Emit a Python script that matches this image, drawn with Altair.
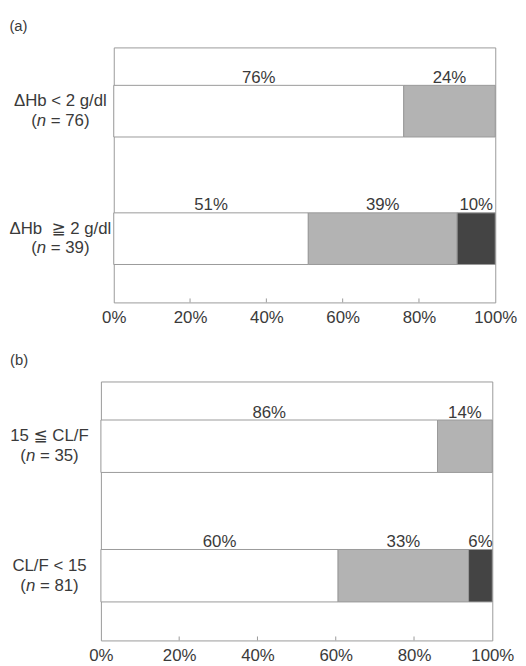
import altair as alt
import pandas as pd

FONT = "Liberation Sans, Arial, DejaVu Sans"
TXT = "#3a3a3a"
FRAME = "#9a9a9a"

seg_names = ["low", "mid", "high"]
seg_colors = ["#ffffff", "#b3b3b3", "#444444"]

# Panel (a)
a_groups = ["ΔHb < 2 g/dl", "ΔHb\u00a0 ≧ 2 g/dl"]
a_n = [76, 39]
a_low = [76, 51]
a_mid = [24, 39]
a_high = [0, 10]

# Panel (b)
b_groups = ["15 ≦ CL/F", "CL/F < 15"]
b_n = [35, 81]
b_low = [86, 60]
b_mid = [14, 33]
b_high = [0, 6]

x_ticks = [0, 0.2, 0.4, 0.6, 0.8, 1.0]
inner_ticks = [0.2, 0.4, 0.6, 0.8]


def seg_df(groups, low, mid, high):
    rows = []
    for i, g in enumerate(groups):
        for k, (name, vals) in enumerate(zip(seg_names, [low, mid, high])):
            if vals[i] > 0:
                rows.append({"group": g, "seg": name, "order": k, "pct": vals[i]})
    return pd.DataFrame(rows)


def yscale(groups):
    return alt.Scale(domain=groups, paddingInner=0.595, paddingOuter=0.2975)


XS = alt.Scale(domain=[0, 1], nice=False, zero=True)
XAXIS = alt.Axis(values=x_ticks, format="%", title=None, ticks=False, domain=False,
                 grid=False, labelFlush=False, labelFontSize=17, labelFont=FONT,
                 labelColor=TXT, labelPadding=7)


def bars_panel(groups, low, mid, high, w, h):
    df = seg_df(groups, low, mid, high)
    base = alt.Chart(df).transform_stack(
        stack="pct", groupby=["group"], as_=["x0", "x1"],
        sort=[alt.SortField("order", order="ascending")], offset="normalize"
    ).transform_calculate(mid="(datum.x0 + datum.x1) / 2", label="datum.pct + '%'")
    y = alt.Y("group:N", scale=yscale(groups), axis=None, sort=groups)
    bars = base.mark_bar(stroke=FRAME, strokeWidth=1).encode(
        x=alt.X("x0:Q", scale=XS, axis=XAXIS),
        x2="x1:Q",
        y=y,
        color=alt.Color("seg:N", scale=alt.Scale(domain=seg_names, range=seg_colors), legend=None),
    )
    labels = base.mark_text(baseline="alphabetic", dy=-29, fontSize=17, font=FONT, color=TXT).encode(
        x=alt.X("mid:Q", scale=XS, axis=XAXIS),
        y=y,
        text="label:N",
    )
    ticks = alt.Chart(pd.DataFrame({"t": inner_ticks})).mark_rule(color=FRAME).encode(
        x=alt.X("t:Q", scale=XS, axis=XAXIS),
        y=alt.value(h),
        y2=alt.value(h - 4),
    )
    return alt.layer(bars, labels, ticks).properties(
        width=w, height=h, view=alt.ViewBackground(stroke=FRAME, strokeWidth=1)
    )


def label_panel(groups, ns, w, h, c, title):
    df = pd.DataFrame({"group": groups, "rest": ["= %d)" % n for n in ns]})
    y = alt.Y("group:N", scale=yscale(groups), axis=None, sort=groups)
    base = alt.Chart(df)
    kw = dict(fontSize=17, font=FONT, color=TXT, baseline="middle")
    l1 = base.mark_text(align="center", dy=-10, **kw).encode(x=alt.value(c), y=y, text="group:N")
    p = base.mark_text(align="right", dy=10, **kw).encode(x=alt.value(c - 23.9), y=y, text=alt.value("("))
    nn = base.mark_text(align="center", dy=10, fontStyle="italic", **kw).encode(
        x=alt.value(c - 19.1), y=y, text=alt.value("n"))
    rest = base.mark_text(align="left", dy=10, **kw).encode(x=alt.value(c - 9.7), y=y, text="rest:N")
    return alt.layer(l1, p, nn, rest).properties(
        width=w, height=h,
        title=alt.TitleParams(title, anchor="start", fontSize=15, fontWeight="normal",
                              font=FONT, color=TXT, offset=14),
        view=alt.ViewBackground(stroke="transparent"),
    )


row_a = alt.hconcat(
    label_panel(a_groups, a_n, 105, 258, 51, "(a)"),
    bars_panel(a_groups, a_low, a_mid, a_high, 386, 258),
    spacing=0, bounds="flush",
)
row_b = alt.hconcat(
    label_panel(b_groups, b_n, 92, 262, 40, "(b)"),
    bars_panel(b_groups, b_low, b_mid, b_high, 396, 262),
    spacing=0, bounds="flush",
)

chart = alt.vconcat(row_a, row_b, spacing=26).properties(
    padding={"left": 0, "top": 6, "right": 0, "bottom": 0}
).configure(background="white")

chart.save("out.html", embed_options={"renderer": "svg", "actions": False})
